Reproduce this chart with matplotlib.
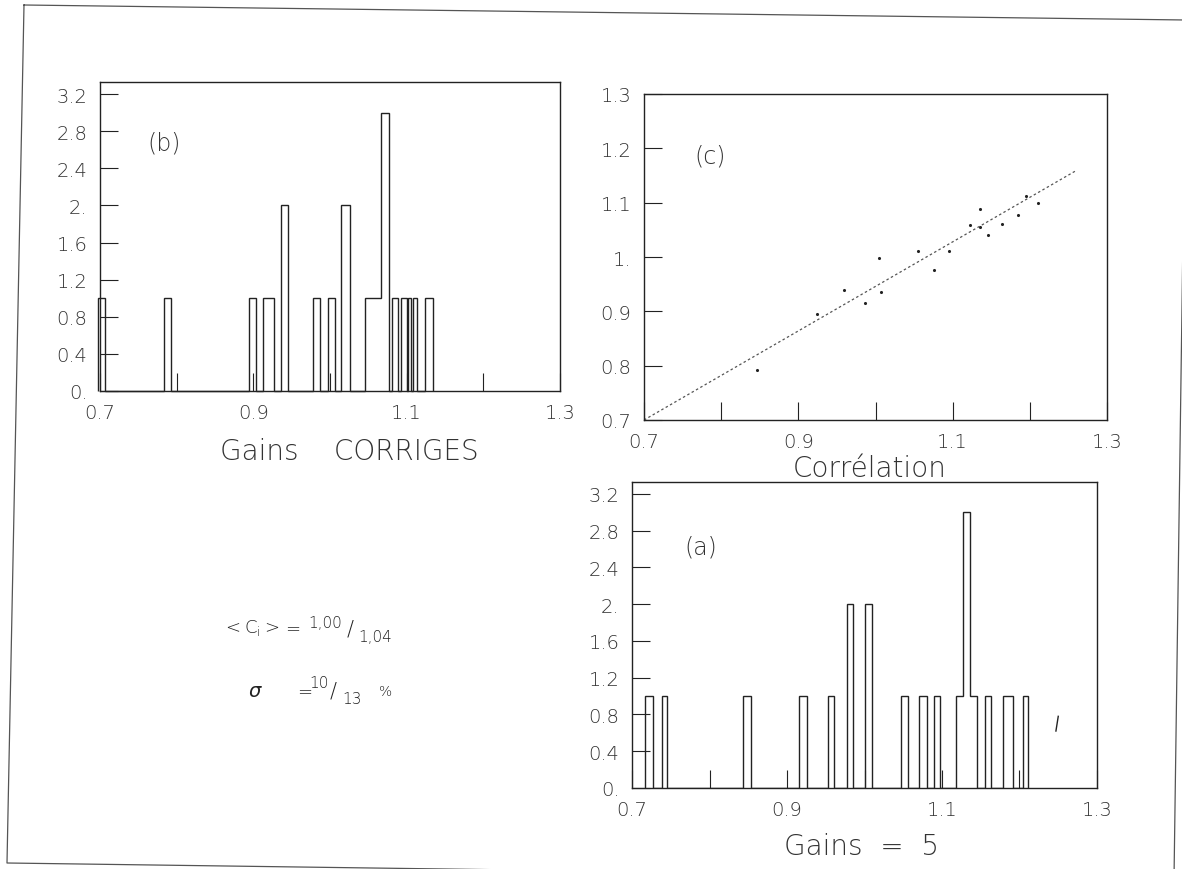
import numpy as np
import matplotlib
matplotlib.use("Agg")
import matplotlib.pyplot as plt
from matplotlib.lines import Line2D

W, H = 1182, 870

# ===============================
# Datos
# ===============================
ticks_x = [0.7, 0.8, 0.9, 1.0, 1.1, 1.2, 1.3]
ticks_hist_y = [0.0, 0.4, 0.8, 1.2, 1.6, 2.0, 2.4, 2.8, 3.2]
ticks_corr_y = [0.7, 0.8, 0.9, 1.0, 1.1, 1.2, 1.3]

# (b) gains corrigés : bords des classes et contenus
b_edges = [0.698, 0.706, 0.784, 0.793, 0.894, 0.903, 0.913, 0.927, 0.936, 0.945,
           0.978, 0.987, 0.997, 1.006, 1.014, 1.026, 1.045, 1.066, 1.077, 1.081,
           1.089, 1.093, 1.100, 1.102, 1.106, 1.108, 1.114, 1.124, 1.134]
b_counts = [1, 0, 1, 0, 1, 0, 1, 0, 2, 0, 1, 0, 1, 0, 2, 0, 1, 3, 0, 1,
            0, 1, 0, 1, 0, 1, 0, 1]

# (a) gains = 5
a_edges = [0.717, 0.727, 0.739, 0.745, 0.843, 0.854, 0.915, 0.926, 0.953, 0.961,
           0.977, 0.985, 1.001, 1.010, 1.047, 1.056, 1.070, 1.081, 1.090, 1.097,
           1.118, 1.127, 1.136, 1.145, 1.155, 1.163, 1.179, 1.192, 1.205, 1.211]
a_counts = [1, 0, 1, 0, 1, 0, 1, 0, 1, 0, 2, 0, 2, 0, 1, 0, 1, 0, 1, 0,
            1, 3, 1, 0, 1, 0, 1, 0, 1]
a_mark_x = [1.247, 1.250]
a_mark_y = [0.62, 0.78]

# (c) corrélation
c_x = [0.847, 0.924, 0.959, 0.987, 1.004, 1.007, 1.055, 1.076, 1.095,
       1.123, 1.136, 1.136, 1.146, 1.164, 1.185, 1.195, 1.210]
c_y = [0.792, 0.895, 0.939, 0.916, 0.999, 0.936, 1.011, 0.976, 1.011,
       1.058, 1.088, 1.055, 1.041, 1.060, 1.078, 1.113, 1.100]
fit_x = [0.70, 1.26]
fit_y = [0.70, 1.159]

INK = "#222222"
TXT = "#333333"
plt.rcParams["font.family"] = ["DejaVu Sans"]
plt.rcParams["font.weight"] = "light"

fig = plt.figure(figsize=(W / 100, H / 100), dpi=100)


def rect(l, t, r, b):
    return [l / W, 1 - b / H, (r - l) / W, (b - t) / H]


def fx(x):
    return x / W


def fy(y):
    return 1 - y / H


def fmt(v):
    s = f"{v:.1f}"
    return s[:-1] if s.endswith(".0") else s


def style(ax, yticks, ylim):
    ax.set_xlim(0.7, 1.3)
    ax.set_ylim(*ylim)
    ax.set_xticks(ticks_x)
    ax.set_xticklabels([fmt(t) if i % 2 == 0 else "" for i, t in enumerate(ticks_x)])
    ax.set_yticks(yticks)
    ax.set_yticklabels([fmt(t) for t in yticks])
    ax.tick_params(direction="in", length=13, width=0.8, color=INK,
                   labelcolor=TXT, labelsize=14, pad=9)
    for sp in ax.spines.values():
        sp.set_color(INK)
        sp.set_linewidth(1.0)


# cadre de la page (scan légèrement tourné)
page_x = [24, 1186, 1174, 7, 24]
page_y = [6, 21, 880, 864, 6]
fig.add_artist(Line2D([fx(v) for v in page_x], [fy(v) for v in page_y],
                      color="#555555", lw=0.9, transform=fig.transFigure))

# ----- (b) -----
axb = fig.add_axes(rect(100, 83, 560, 392))
style(axb, ticks_hist_y, (0, 3.33))
axb.stairs(b_counts, b_edges, color=INK, lw=1.0, clip_on=False)
axb.text(0.762, 2.68, "(b)", fontsize=17, color=TXT, va="center")

# ----- (c) -----
axc = fig.add_axes(rect(644, 95, 1107, 421))
style(axc, ticks_corr_y, (0.7, 1.3))
axc.plot(fit_x, fit_y, color="#555555", lw=0.9, ls=(0, (2, 2)))
axc.scatter(c_x, c_y, s=5, color=INK, marker="o", linewidths=0)
axc.text(0.765, 1.186, "(c)", fontsize=17, color=TXT, va="center")

# ----- (a) -----
axa = fig.add_axes(rect(632, 483, 1097, 789))
style(axa, ticks_hist_y, (0, 3.33))
axa.stairs(a_counts, a_edges, color=INK, lw=1.0)
axa.plot(a_mark_x, a_mark_y, color=INK, lw=1.0)
axa.text(0.767, 2.63, "(a)", fontsize=17, color=TXT, va="center")

# titres
fig.text(fx(349), fy(452), "Gains    CORRIGES", fontsize=20, color=TXT,
         ha="center", va="center")
fig.text(fx(870), fy(469), "Corrélation", fontsize=20, color=TXT,
         ha="center", va="center")
fig.text(fx(862), fy(847), "Gains  =  5", fontsize=20, color=TXT,
         ha="center", va="center")

# moyennes et dispersion
fig.text(fx(222), fy(628), r"$\mathregular{<C_i>}$", fontsize=13, color=INK, va="center")
fig.text(fx(285), fy(630), "=", fontsize=13, color=INK, va="center")
fig.text(fx(308), fy(624), "1,00", fontsize=11, color=INK, va="center")
fig.text(fx(347), fy(630), "/", fontsize=15, color=INK, va="center")
fig.text(fx(358), fy(638), "1,04", fontsize=11, color=INK, va="center")

fig.text(fx(248), fy(692), "σ", fontsize=14, color=INK, va="center", style="italic")
fig.text(fx(297), fy(693), "=", fontsize=13, color=INK, va="center")
fig.text(fx(309), fy(683), "10", fontsize=11, color=INK, va="center")
fig.text(fx(330), fy(692), "/", fontsize=15, color=INK, va="center")
fig.text(fx(342), fy(699), "13", fontsize=11, color=INK, va="center")
fig.text(fx(379), fy(692), "%", fontsize=10, color=INK, va="center")

fig.savefig("out.png", dpi=100, facecolor="white")
